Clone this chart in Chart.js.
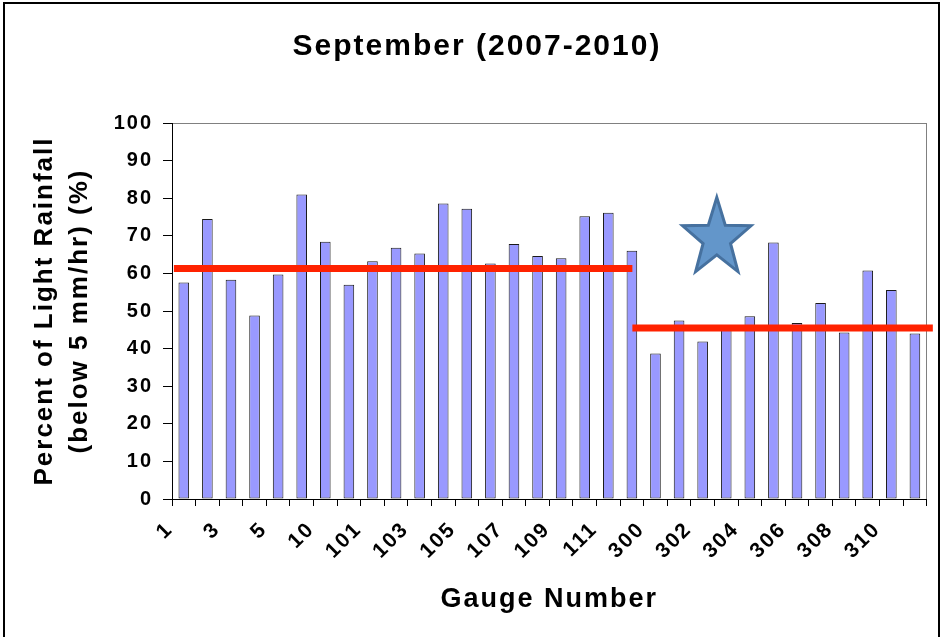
<!DOCTYPE html>
<html>
<head>
<meta charset="utf-8">
<script src="https://cdn.jsdelivr.net/npm/chart.js@4.4.1/dist/chart.umd.min.js"></script>
<style>
html,body{margin:0;padding:0;background:#fff;}
canvas{display:block;}
</style>
</head>
<body>
<canvas id="c" width="944" height="637"></canvas>
<script>
// ---- data ----
const categories = ["1","2","3","4","5","9","10","11",
  "101","102","103","104","105","106","107","108","109","110","111","112",
  "300","301","302","303","304","305","306","307","308","309","310","311"];
const lightRainPercent = [57.6, 74.5, 58.3, 48.8, 59.7, 81.0, 68.4, 57.0,
  63.2, 66.8, 65.3, 78.6, 77.2, 62.6, 67.8, 64.6, 64.0, 75.2, 76.1, 66.0,
  38.7, 47.5, 41.9, 45.5, 48.6, 68.2, 46.8, 52.1, 44.3, 60.8, 55.6, 44.0];
const yTickValues = [0,10,20,30,40,50,60,70,80,90,100];
const groupLevels = [61.3, 45.5];      // red reference lines (percent)
const groupStarts = [-0.42, 19.02];    // in category-index units
const groupEnds   = [19.02, 31.76];
const starPoint   = [22.6, 69.3];      // category index, percent

const titleText = "September (2007-2010)";
const xTitle = "Gauge Number";
const yTitle = ["Percent of Light Rainfall", "(below 5 mm/hr) (%)"];

// ---- chart ----
const FONT = "'Liberation Sans', Arial, sans-serif";
Chart.defaults.font.family = FONT;
Chart.defaults.font.weight = 'bold';
Chart.defaults.color = '#000';

const SPACING = '2px';
const decoPlugin = {
  id: 'deco',
  beforeUpdate(chart) { chart.ctx.letterSpacing = SPACING; },
  beforeDraw(chart) {
    const ctx = chart.ctx;
    ctx.letterSpacing = SPACING;
    ctx.save();
    ctx.fillStyle = '#fff';
    ctx.fillRect(0, 0, chart.width, chart.height);
    ctx.strokeStyle = '#000';
    ctx.lineWidth = 2;
    ctx.strokeRect(4, 3, 935, 700);
    const a = chart.chartArea;
    ctx.strokeStyle = '#808080';
    ctx.lineWidth = 1;
    ctx.strokeRect(Math.round(a.left) + 0.5, Math.round(a.top) + 0.5,
      Math.round(a.right - a.left) - 1, Math.round(a.bottom - a.top));
    ctx.restore();
  },
  afterDatasetsDraw(chart) {
    const ctx = chart.ctx;
    const cx = chart.scales.xl.getPixelForValue(starPoint[0]);
    const cy = chart.scales.y.getPixelForValue(starPoint[1]);
    const rx = 36, ry = 41, inner = 0.4;
    ctx.save();
    ctx.beginPath();
    for (let i = 0; i < 10; i++) {
      const ang = -Math.PI / 2 + i * Math.PI / 5;
      const f = (i % 2 === 0) ? 1 : inner;
      const px = cx + Math.cos(ang) * rx * f;
      const py = cy + Math.sin(ang) * ry * f;
      if (i === 0) ctx.moveTo(px, py); else ctx.lineTo(px, py);
    }
    ctx.closePath();
    ctx.fillStyle = '#6396CA';
    ctx.fill();
    ctx.lineWidth = 3;
    ctx.lineJoin = 'miter';
    ctx.strokeStyle = '#46719F';
    ctx.stroke();
    ctx.restore();
  }
};

const lineDatasets = groupLevels.map((lv, i) => ({
  type: 'line',
  data: [{x: groupStarts[i], y: lv}, {x: groupEnds[i], y: lv}],
  xAxisID: 'xl',
  yAxisID: 'y',
  borderColor: '#FF2200',
  borderWidth: 7,
  borderCapStyle: 'butt',
  pointRadius: 0,
  fill: false,
  clip: false,
  order: 1
}));

new Chart(document.getElementById('c'), {
  type: 'bar',
  data: {
    labels: categories,
    datasets: [{
      type: 'bar',
      data: lightRainPercent,
      xAxisID: 'x',
      yAxisID: 'y',
      backgroundColor: '#9999FF',
      borderColor: '#1a1a1a',
      borderWidth: 1,
      borderSkipped: false,
      barPercentage: 0.45,
      categoryPercentage: 1.0,
      grouped: false,
      order: 2
    }, ...lineDatasets]
  },
  options: {
    responsive: false,
    animation: false,
    devicePixelRatio: 1,
    layout: { padding: { left: 15, right: 5, top: 8, bottom: 10 } },
    plugins: {
      legend: { display: false },
      tooltip: { enabled: false },
      title: {
        display: true,
        text: titleText,
        font: { size: 30, weight: 'bold' },
        color: '#000',
        padding: { top: 21, bottom: 58 }
      }
    },
    scales: {
      x: {
        type: 'category',
        offset: true,
        grid: { display: true, drawOnChartArea: false, drawTicks: true, tickLength: 7, color: '#000', offset: true },
        border: { display: true, color: '#000', width: 1 },
        ticks: {
          autoSkip: false,
          maxRotation: 45,
          minRotation: 45,
          padding: 11,
          labelOffset: -14,
          font: { size: 21, weight: 'bold' },
          color: '#000',
          callback: (v, i) => (i % 2 === 0 ? categories[i] : '')
        },
        title: {
          display: true,
          text: xTitle,
          font: { size: 27, weight: 'bold' },
          color: '#000',
          padding: { top: 0, bottom: 11 }
        },
        afterFit: (s) => { s.height = 128; }
      },
      xl: {
        type: 'linear',
        display: false,
        offset: false,
        grid: { offset: false },
        bounds: 'ticks',
        min: -0.5,
        max: 31.5
      },
      y: {
        type: 'linear',
        min: 0,
        max: 100,
        afterBuildTicks: (s) => { s.ticks = yTickValues.map(v => ({ value: v })); },
        grid: { display: true, drawOnChartArea: false, drawTicks: true, tickLength: 9, color: '#000' },
        border: { display: true, color: '#000', width: 1 },
        ticks: {
          padding: 10,
          font: { size: 20, weight: 'bold' },
          color: '#000'
        },
        title: {
          display: true,
          text: yTitle,
          font: { size: 26, weight: 'bold', lineHeight: 1.35 },
          color: '#000',
          padding: { top: 12.5, bottom: 0 }
        },
        afterFit: (s) => { s.width = 157; }
      },
      yPad: {
        type: 'linear',
        position: 'right',
        display: true,
        grid: { display: false, drawTicks: false },
        border: { display: false },
        ticks: { display: false },
        afterFit: (s) => { s.width = 12; }
      }
    }
  },
  plugins: [decoPlugin]
});
</script>
</body>
</html>
